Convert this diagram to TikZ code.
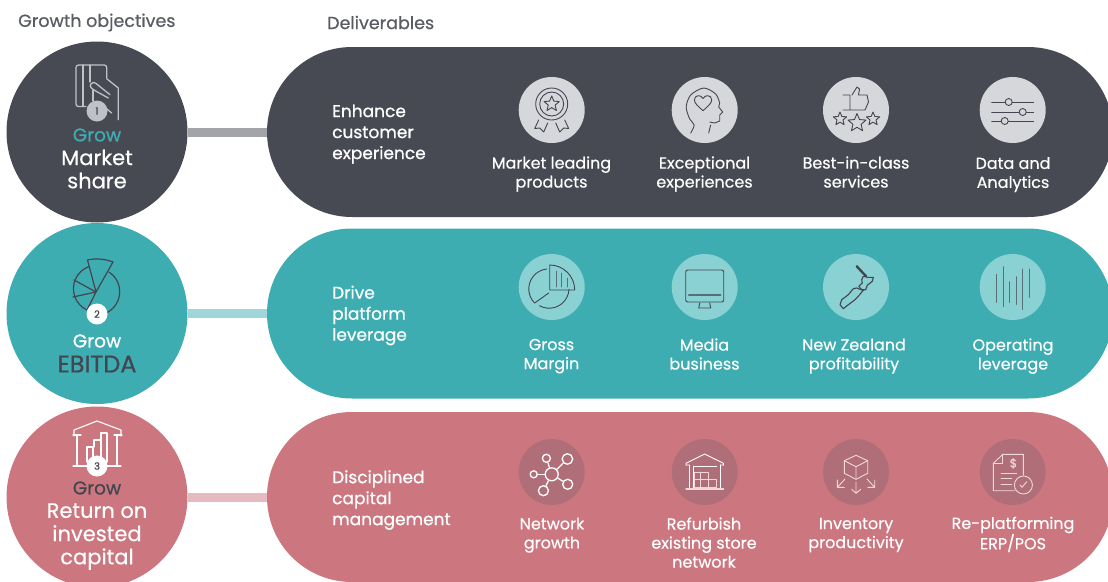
\documentclass[tikz,border=0pt]{standalone}
\usepackage{fontspec}
\setmainfont{Poppins}[FakeBold=0.35]
\newfontfamily\strongface{Poppins}[FakeBold=0.7]
\usetikzlibrary{positioning}
\usetikzlibrary{shapes.misc}
\definecolor{slate}{HTML}{484A53}
\definecolor{teal1}{HTML}{3EADB2}
\definecolor{rose}{HTML}{CC777F}
\definecolor{slateDisc}{HTML}{D6D7DB}
\definecolor{tealDisc}{HTML}{8AD1D4}
\definecolor{roseDisc}{HTML}{B06F78}
\definecolor{inkLine}{HTML}{43454F}
\definecolor{softLine}{HTML}{F0D8DA}
\definecolor{cardLine}{HTML}{BEC2C8}
\newcommand{\iconstar}[3]{%
  \draw[icon,shift={(#1,#2)}] (-90:#3) \foreach \a in {1,...,9} { -- ({-90+36*\a}:{#3*(mod(\a,2)==1?0.45:1)}) } -- cycle;
}
\begin{document}
\begin{tikzpicture}[
    x=1pt,y=-1pt,
    objective/.style={circle,minimum size=181pt,inner sep=0pt},
    deliverable/.style={rounded rectangle,minimum width=846pt,minimum height=170pt,inner sep=0pt},
    link/.style={line width=9pt},
    disc/.style={circle,minimum size=66pt,inner sep=0pt},
    badge/.style={circle,minimum size=21pt,inner sep=0pt,text=inkLine,font=\fontsize{10}{10}\selectfont},
    heading/.style={anchor=west,inner sep=0pt,text=slate!90,font=\strongface\fontsize{17.5}{18}\selectfont},
    growword/.style={align=center,font=\strongface\fontsize{18.5}{23}\selectfont},
    goal/.style={align=center,font=\fontsize{21}{23.2}\selectfont},
    lever/.style={align=left,anchor=west,inner sep=0pt,text=white,font=\strongface\fontsize{17}{21}\selectfont},
    caption/.style={align=center,text=white,text depth=0pt,font=\fontsize{16}{19}\selectfont},
    icon/.style={draw=inkLine,line width=.9pt,line join=round,line cap=round},
  ]
    \clip (0,0) rectangle (1108,581);

    \node [heading] (headA) at (18,22.5) {Growth objectives};
    \node [heading] (headB) at (327,22.5) {Deliverables};

    \node [objective,fill=slate] (obj1) at (97,132) {};
    \node [objective,fill=teal1] (obj2) at (97,313.5) {};
    \node [objective,fill=rose] (obj3) at (97,497) {};
    \node [deliverable,fill=slate] (del1) at (690,132) {};
    \node [deliverable,fill=teal1] (del2) at (690,313.5) {};
    \node [deliverable,fill=rose] (del3) at (690,497) {};

    \draw [link,color=slate!50] (obj1) -- (del1);
    \draw [link,color=teal1!50] (obj2) -- (del2);
    \draw [link,color=rose!50] (obj3) -- (del3);

    \node [growword,text=teal1] (grow1) at (97,135) {Grow};
    \node [goal,text=white] (goal1) at (97,169) {Market\\share};
    \node [growword,text=white] (grow2) at (97,341) {Grow};
    \node [goal,text=inkLine,font=\strongface\fontsize{24}{24}\selectfont] (goal2) at (97,364) {EBITDA};
    \node [growword,text=inkLine] (grow3) at (97,488) {Grow};
    \node [goal,text=white] (goal3) at (97,536.5) {Return on\\invested\\capital};

    \node [lever] (lev1) at (332,134) {Enhance\\customer\\experience};
    \node [lever] (lev2) at (332,315.5) {Drive\\platform\\leverage};
    \node [lever] (lev3) at (332,500) {Disciplined\\capital\\management};

    % discs
    \foreach \col/\xx in {1/551.7,2/704.7,3/856,4/1012.7} {
      \node [disc,fill=slateDisc] (a\col) at (\xx,110) {};
      \node [disc,fill=tealDisc] (b\col) at (\xx,287) {};
      \node [disc,fill=roseDisc] (c\col) at (\xx,472) {};
    }

    \node [caption] (capA1) at (551.5,172) {Market leading\\products};
    \node [caption] (capA2) at (704.5,172) {Exceptional\\experiences};
    \node [caption] (capA3) at (856,172) {Best-in-class\\services};
    \node [caption] (capA4) at (1013,172.5) {Data and\\Analytics};
    \node [caption] (capB1) at (551.5,354) {Gross\\Margin};
    \node [caption] (capB2) at (704.5,354) {Media\\business};
    \node [caption] (capB3) at (854,354) {New Zealand\\profitability};
    \node [caption] (capB4) at (1013,354) {Operating\\leverage};
    \node [caption] (capC1) at (552,533) {Network\\growth};
    \node [caption] (capC2) at (704,542.5) {Refurbish\\existing store\\network};
    \node [caption] (capC3) at (856,533) {Inventory\\productivity};
    \node [caption] (capC4) at (1013,533) {Re-platforming\\ERP/POS};

    % card icon
    \begin{scope}[icon/.append style={draw=cardLine,line width=1.3pt}]
      \draw [icon,rounded corners=2.5pt] (106.7,78) -- (106.7,65) -- (76,65) -- (76,106.5) -- (86,106.5);
      \draw [icon] (83,65) -- (83,106) (90,65) -- (90,82) (93,90) -- (93,101);
      \draw [icon,rounded corners=3pt] (110,94.7) -- (93.3,81.3) -- (89,86) -- (93.3,89.7) -- (108.3,98);
      \draw [icon] (106.7,78.7) -- (118.3,88) -- (118.3,119.7) (105.7,108) -- (111.7,113);
    \end{scope}
    % pie icon
    \begin{scope}[icon/.append style={line width=1.2pt}]
      \draw [icon] (96,292) -- (87.5,260) .. controls (96,258) and (105,259) .. (113,262) -- cycle;
      \draw [icon] (73,297) -- (96,292) -- (74,280) (96,292) -- (87,310);
      \draw [icon] (109,272) arc (-57:70:23.5);
      \draw [icon] (87,310) arc (115:249:23.5);
    \end{scope}
    % building icon
    \begin{scope}[icon/.append style={draw=white,line width=1.1pt}]
      \draw [icon] (74,436) -- (74,430) -- (97,421) -- (121,430) -- (121,436);
      \draw [icon] (73,435) -- (81,435) (114,435) -- (122,435);
      \draw [icon] (77,435) -- (77,466) (117,435) -- (117,466) (73,466) -- (121,466);
      \draw [icon] (87,462) -- (87,447) -- (93,447) -- (93,460) (94,447) -- (94,440) -- (101,440) -- (101,458) (101,440) -- (101,433) -- (107,433) -- (107,462);
    \end{scope}

    \node [badge,fill=cardLine] (num1) at (97,111) {1};
    \node [badge,fill=white] (num2) at (97,314) {2};
    \node [badge,fill=white] (num3) at (97,466) {3};

    % row one
    \begin{scope}[shift={(a1)}]
      \draw [icon] (0,-6) circle (16) (0,-6) circle (12);
      \iconstar{0}{-6}{8}
      \draw [icon] (-13,10) -- (-17,18.5) -- (-12,18) -- (-8,22) -- (-4,13);
      \draw [icon] (13,10) -- (17,18.5) -- (12,18) -- (8,22) -- (4,13);
    \end{scope}
    \begin{scope}[shift={(a2)}]
      \draw [icon] plot[smooth] coordinates {(-14,23) (-10.5,15) (-15,9) (-18.5,-3) (-14,-15) (-1,-22) (11,-16) (15,-7)} -- (14,-3) -- (18,2) -- (15,5) -- (15,11) -- (10,13) -- (5,12);
      \draw [icon] (6,15) -- (4,23);
      \draw [icon] (-1.7,.7) .. controls (-7,-4) and (-10.3,-7) .. (-10.3,-10) .. controls (-10.3,-15.5) and (-3.5,-15.5) .. (-1.7,-11.5) .. controls (0,-15.5) and (7,-15.5) .. (7,-10) .. controls (7,-7) and (3.6,-4) .. (-1.7,.7) -- cycle;
    \end{scope}
    \begin{scope}[shift={(a3)}]
      \draw [icon] (-13,-15) -- (-6,-15) -- (-6,0) -- (-13,0) (-4,-15) -- (1,-23) -- (3.5,-21) -- (2.5,-15) -- (11,-15) -- (12.5,-8) -- (9,0) -- (-6,0);
      \iconstar{-16}{9}{7}
      \iconstar{1}{13}{9.5}
      \iconstar{17}{9}{7}
    \end{scope}
    \begin{scope}[shift={(a4)}]
      \foreach \yy/\kx in {-8/-4,2/10,11/-8} {
        \draw [icon] (-21,\yy) -- (21,\yy);
        \draw [icon,fill=slateDisc] (\kx,\yy) circle (3.5);
      }
    \end{scope}

    % row two
    \begin{scope}[shift={(b1)}]
      \draw [icon] (-5,-18) arc (-96:-225:20) -- (-3,6);
      \draw [icon] (-12.3,18.7) arc (119:3:20);
      \draw [icon] (-2,-21) -- (-2,3) -- (23,3) arc (0:-90:25) -- cycle;
      \draw [icon,draw=inkLine!70!tealDisc] (5,-16) -- (5,0) (10,-14) -- (10,0) (16,-9) -- (16,0);
    \end{scope}
    \begin{scope}[shift={(b2)}]
      \draw [icon,rounded corners=2pt] (-19,-17) rectangle (19,15);
      \draw [icon,draw=inkLine!70!tealDisc,line width=1.3pt] (-16,8) -- (16,8);
      \draw [icon] (-5,16) -- (-6,21) -- (6,21) -- (5,16);
    \end{scope}
    \begin{scope}[shift={(b3)},icon/.append style={line width=1.1pt}]
      \draw [icon,line width=2.4pt] (.7,-20.7) -- (7,-14) -- (10,-11);
      \draw [icon] (7.3,-10.7) -- (11.3,-9.7) -- (17.3,-9.7) -- (16.3,-5.7) -- (11.3,-1.7) -- (9.7,2.7) -- (5.7,2.7) -- (2.7,-.7) -- (6.3,-4) -- (5.7,-7.3) -- cycle;
      \draw [icon] (.7,1) -- (3.3,2) -- (7.3,3.3) -- (2.3,9.3) -- (-1,12.7) -- (-7.7,17.7) -- (-12.7,21.7) -- (-16,17.7) -- (-14.3,12.7) -- (-7.7,7.7) -- (-2.7,1.7) -- cycle;
    \end{scope}
    \begin{scope}[shift={(b4)}]
      \foreach \xx/\ya/\yb in {-16/-12.7/15.3,-9.3/-20.3/19.7,-3/-5.3/15.3,3.7/-10.3/17.3,10/-18/22.3,16.3/-18/10.3} {
        \draw [icon,draw=inkLine!70!tealDisc] (\xx,\ya) -- (\xx,\yb);
      }
    \end{scope}

    % row three
    \begin{scope}[shift={(c1)},
        netdot/.style={circle,draw=white,line width=1.3pt,inner sep=0pt}]
      \node [netdot,minimum size=13pt] (hub) at (0,2.3) {};
      \foreach \name/\xx/\yy/\size in {s1/15.7/-13/10.5,s2/-5.3/-13.7/8,s3/-18/2.3/7,s4/16/12.3/10,s5/-8.3/18.7/10} {
        \node [netdot,minimum size=\size pt] (\name) at (\xx,\yy) {};
        \draw [white,line width=1.3pt] (hub) -- (\name);
      }
    \end{scope}
    \begin{scope}[shift={(c2)},icon/.append style={draw=white}]
      \draw [icon] (-18.7,-6.7) -- (-18.7,-8.7) -- (0,-18) -- (18.7,-8.7) -- (18.7,-6.7) (-18.7,-7) -- (-15.5,-7) (15.5,-7) -- (18.7,-7);
      \draw [icon] (-15,-7) -- (-15,16) (15.5,-7) -- (15.5,16) (-11,-6) -- (12,-6) (-11,-6) -- (-11,16);
      \draw [icon,draw=softLine] (-10.5,0) rectangle (3.5,15) (-4.5,0) -- (-4.5,15) (-10.5,7) -- (12,7) -- (12,15) -- (3.5,15);
      \draw [icon,draw=softLine,line width=1.4pt] (-18.7,17) -- (18.7,17);
    \end{scope}
    \begin{scope}[shift={(c3)},icon/.append style={draw=softLine}]
      \draw [icon] (0,-16.7) -- (11.7,-11.3) -- (11.7,1.3) -- (0,7.3) -- (-11.7,1.3) -- (-11.7,-11.3) -- cycle;
      \draw [icon] (-11.7,-11.3) -- (0,-5.3) -- (11.7,-11.3) (0,-5.3) -- (0,7.3);
      \draw [icon] (0,10) -- (0,21) (-4.3,17.3) -- (0,21.3) -- (4.7,17.3);
      \draw [icon] (-11,7) -- (-18.7,15.3) (-18.7,8) -- (-18.7,15.3) -- (-11.7,15.3);
      \draw [icon] (11,7) -- (18.7,15.3) (18.7,8) -- (18.7,15.3) -- (11.7,15.3);
    \end{scope}
    \begin{scope}[shift={(c4)},icon/.append style={draw=softLine}]
      \draw [icon] (10.7,3) -- (10.7,-17.7) -- (-10,-17.7) -- (-19.3,-8.7) -- (-19.3,18.7) -- (2.3,18.7);
      \draw [icon] (-10,-17.7) -- (-10,-8.7) -- (-19.3,-8.7);
      \node [text=softLine,font=\fontsize{12}{12}\selectfont] (dollar) at (.7,-8.7) {\$};
      \draw [icon] (-11.7,1.3) -- (4,1.3) (-11.7,6.7) -- (-1,6.7) (-11.7,12) -- (-1,12);
      \draw [icon] (10.7,13) circle (9);
      \draw [icon] (7.3,13) -- (9.3,15.3) -- (14,9.7);
    \end{scope}

\end{tikzpicture}
\end{document}
